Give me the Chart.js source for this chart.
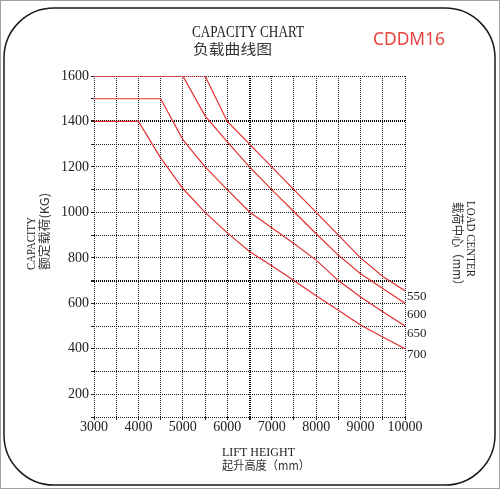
<!DOCTYPE html>
<html>
<head>
<meta charset="utf-8">
<script src="https://cdn.jsdelivr.net/npm/chart.js@4.4.0/dist/chart.umd.min.js"></script>
<style>
  html, body { margin: 0; padding: 0; background: #fff; }
  canvas { display: block; }
</style>
</head>
<body>
<canvas id="chart" width="501" height="491"></canvas>
<script>
// lift height (mm) vs rated capacity (kg), one curve per load centre
const liftHeights = [3000, 3500, 4000, 4500, 5000, 5500, 6000, 6500, 7000, 7500, 8000, 8500, 9000, 9500, 10000];
const loadCenters = ['550', '600', '650', '700'];
const cap550 = [1600, 1600, 1600, 1600, 1600, 1600, 1400, 1300, 1200, 1100, 1000, 900, 800, 718, 655];
const cap600 = [1600, 1600, 1600, 1600, 1600, 1425, 1310, 1200, 1100, 1003, 906, 812, 730, 665, 600];
const cap650 = [1500, 1500, 1500, 1500, 1320, 1200, 1100, 1002, 932, 863, 790, 700, 628, 563, 500];
const cap700 = [1400, 1400, 1400, 1240, 1105, 1000, 910, 828, 765, 700, 633, 570, 505, 452, 400];
const xTickLabels = [3000, 4000, 5000, 6000, 7000, 8000, 9000, 10000];
const yTickLabels = [200, 400, 600, 800, 1000, 1200, 1400, 1600];

const SERIF = '"Liberation Serif", "Times New Roman", serif';
const CJK = '"Noto Sans CJK SC", sans-serif';
const RED = '#e2302e';

const series = [cap550, cap600, cap650, cap700];

// squeeze/stretch a string to a given width
function drawFitted(ctx, text, x, y, width, font, color, angle) {
  ctx.save();
  ctx.font = font;
  ctx.fillStyle = color;
  ctx.textAlign = 'left';
  ctx.textBaseline = 'alphabetic';
  ctx.translate(x, y);
  if (angle) ctx.rotate(angle);
  ctx.scale(width / ctx.measureText(text).width, 1);
  ctx.fillText(text, 0, 0);
  ctx.restore();
}

const decor = {
  id: 'decor',
  beforeDraw(chart) {
    const ctx = chart.ctx;
    ctx.save();
    ctx.fillStyle = '#fff';
    ctx.fillRect(0, 0, chart.width, chart.height);
    ctx.restore();
  },
  afterDraw(chart) {
    const ctx = chart.ctx;
    const area = chart.chartArea;

    // outer photo edge + rounded frame
    ctx.save();
    ctx.strokeStyle = '#a0a0a0';
    ctx.lineWidth = 1;
    ctx.strokeRect(0.5, 0.5, 499, 488);
    ctx.strokeStyle = '#1a1a1a';
    ctx.lineWidth = 1.5;
    ctx.beginPath();
    ctx.roundRect(4, 8, 491, 477, 50);
    ctx.stroke();
    ctx.restore();

    drawFitted(ctx, 'CAPACITY CHART', 192, 37, 112, '17px ' + SERIF, '#222');
    drawFitted(ctx, '负载曲线图', 193, 54, 79, '14px ' + CJK, '#333');
    drawFitted(ctx, 'CDDM16', 373, 45, 72, '18px "Noto Sans"', '#e6453f');

    drawFitted(ctx, 'CAPACITY', 35, 270, 53, '13px ' + SERIF, '#222', -Math.PI / 2);
    drawFitted(ctx, '额定载荷(KG)', 49, 270, 77, '12px ' + CJK, '#333', -Math.PI / 2);
    drawFitted(ctx, 'LOAD CENTER', 466.5, 201, 76, '13px ' + SERIF, '#222', Math.PI / 2);
    drawFitted(ctx, '载荷中心（mm）', 452.5, 202, 89, '12px ' + CJK, '#333', Math.PI / 2);
    drawFitted(ctx, 'LIFT HEIGHT', 222, 456, 73, '13px ' + SERIF, '#222');
    drawFitted(ctx, '起升高度（mm）', 222, 470, 88, '12px ' + CJK, '#333');

    // load centre labels next to the end of each curve
    const offsets = [9, 15, 11, 9];
    ctx.save();
    ctx.font = '13px ' + SERIF;
    ctx.fillStyle = '#222';
    ctx.textAlign = 'left';
    ctx.textBaseline = 'alphabetic';
    chart.data.datasets.forEach((ds, i) => {
      const pts = chart.getDatasetMeta(i).data;
      const last = pts[pts.length - 1];
      ctx.fillText(ds.label, area.right + 2, last.y + offsets[i]);
    });
    ctx.restore();
  }
};

const boldY = [1400, 700];
const boldX = [6500];

new Chart(document.getElementById('chart'), {
  type: 'line',
  data: {
    datasets: loadCenters.map((lc, i) => ({
      label: lc,
      data: liftHeights.map((h, j) => ({ x: h, y: series[i][j] })),
      borderColor: RED,
      borderWidth: 1.2,
      pointRadius: 0,
      tension: 0,
      fill: false
    }))
  },
  options: {
    responsive: false,
    animation: false,
    events: [],
    layout: { padding: { left: 0, top: 76, right: 96, bottom: 44 } },
    plugins: {
      legend: { display: false },
      tooltip: { enabled: false }
    },
    scales: {
      x: {
        type: 'linear',
        min: 3000,
        max: 10000,
        afterFit(scale) { scale.height = 30; },
        border: { display: false, dash: [1, 1] },
        grid: {
          color: ctx => boldX.includes(ctx.tick && ctx.tick.value) ? '#000' : '#1c1c1c',
          lineWidth: ctx => boldX.includes(ctx.tick && ctx.tick.value) ? 2 : 1,
          tickLength: 3,
          tickColor: '#222'
        },
        ticks: {
          stepSize: 500,
          autoSkip: false,
          maxRotation: 0,
          padding: -1,
          color: '#222',
          font: { family: SERIF, size: 14 },
          callback: v => xTickLabels.includes(v) ? String(v) : ''
        }
      },
      y: {
        min: 100,
        max: 1600,
        afterFit(scale) { scale.width = 94; },
        border: { display: false, dash: [1, 1] },
        grid: {
          color: ctx => {
            const v = ctx.tick && ctx.tick.value;
            if (v === 1500) return 'rgba(0,0,0,0)';
            return boldY.includes(v) ? '#000' : '#1c1c1c';
          },
          lineWidth: ctx => boldY.includes(ctx.tick && ctx.tick.value) ? 2 : 1,
          tickLength: 3,
          tickColor: '#222'
        },
        ticks: {
          stepSize: 100,
          autoSkip: false,
          padding: 2,
          color: '#222',
          font: { family: SERIF, size: 14 },
          callback: v => yTickLabels.includes(v) ? String(v) : ''
        }
      }
    }
  },
  plugins: [decor]
});
</script>
</body>
</html>
